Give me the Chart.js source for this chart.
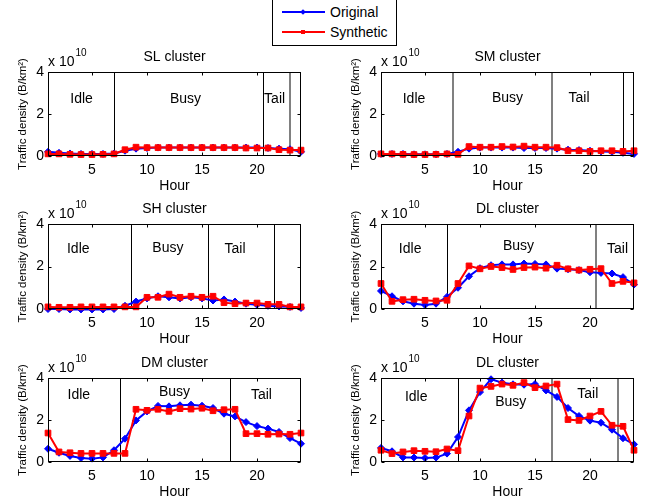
<!DOCTYPE html>
<html>
<head>
<meta charset="utf-8">
<script src="https://cdn.jsdelivr.net/npm/chart.js@4.4.0/dist/chart.umd.min.js"></script>
<style>
  body { margin: 0; width: 657px; height: 504px; background: #fff; position: relative; overflow: hidden;
         font-family: "Liberation Sans", Arial, sans-serif; }
  canvas { position: absolute; }
  #legend { position: absolute; left: 272px; top: -2px; width: 123px; height: 46px; border: 1px solid #000; background: #fff; }
  #legend .ln { position: absolute; left: 9px; width: 43px; height: 2px; }
  #legend .mk { position: absolute; }
  #legend .tx { position: absolute; left: 57px; font-size: 14px; line-height: 18px; color: #000; }
</style>
</head>
<body>
<div id="legend">
  <div class="ln" style="top:12px;background:#0000ff"></div>
  <div class="mk" style="left:28px;top:11px;width:4px;height:4px;background:#0000ff;transform:rotate(45deg)"></div>
  <div class="tx" style="top:4px">Original</div>
  <div class="ln" style="top:32px;background:#ff0000"></div>
  <div class="mk" style="left:28px;top:31px;width:4px;height:4px;background:#ff0000"></div>
  <div class="tx" style="top:24px">Synthetic</div>
</div>
<canvas id="sl" width="320" height="154" style="left:0;top:42px"></canvas>
<canvas id="sm" width="324" height="154" style="left:333px;top:42px"></canvas>
<canvas id="sh" width="320" height="155" style="left:0;top:194px"></canvas>
<canvas id="dl1" width="324" height="155" style="left:333px;top:194px"></canvas>
<canvas id="dm" width="320" height="154" style="left:0;top:348px"></canvas>
<canvas id="dl2" width="324" height="154" style="left:333px;top:348px"></canvas>
<script>
// hours of day and traffic density (x 10^10 B/km^2)
const hours = [1, 2, 3, 4, 5, 6, 7, 8, 9, 10, 11, 12, 13, 14, 15, 16, 17, 18, 19, 20, 21, 22, 23, 24];
const xTicks = [5, 10, 15, 20];
const yTicks = [0, 2, 4];

const slOriginal  = [0.2, 0.15, 0.12, 0.1, 0.1, 0.1, 0.12, 0.25, 0.35, 0.38, 0.4, 0.4, 0.4, 0.4, 0.4, 0.4, 0.4, 0.4, 0.4, 0.4, 0.38, 0.35, 0.32, 0.2];
const slSynthetic = [0.1, 0.1, 0.08, 0.07, 0.07, 0.08, 0.1, 0.3, 0.42, 0.4, 0.4, 0.4, 0.4, 0.4, 0.4, 0.4, 0.4, 0.4, 0.38, 0.38, 0.38, 0.3, 0.28, 0.28];

const smOriginal  = [0.1, 0.1, 0.1, 0.08, 0.08, 0.08, 0.1, 0.2, 0.35, 0.4, 0.4, 0.4, 0.4, 0.38, 0.38, 0.38, 0.35, 0.3, 0.28, 0.25, 0.22, 0.2, 0.15, 0.1];
const smSynthetic = [0.1, 0.1, 0.08, 0.07, 0.07, 0.08, 0.1, 0.08, 0.45, 0.42, 0.42, 0.45, 0.43, 0.47, 0.42, 0.42, 0.4, 0.25, 0.25, 0.22, 0.25, 0.25, 0.22, 0.25];

const shOriginal  = [0.0, 0.0, -0.02, -0.02, -0.02, -0.02, 0.0, 0.15, 0.35, 0.5, 0.6, 0.55, 0.5, 0.55, 0.5, 0.4, 0.45, 0.35, 0.25, 0.2, 0.15, 0.12, 0.1, 0.05];
const shSynthetic = [0.1, 0.08, 0.08, 0.1, 0.1, 0.1, 0.1, 0.1, 0.1, 0.55, 0.55, 0.7, 0.55, 0.6, 0.55, 0.6, 0.3, 0.25, 0.28, 0.28, 0.22, 0.22, 0.1, 0.1];

const dl1Original  = [0.85, 0.6, 0.36, 0.25, 0.19, 0.25, 0.57, 1.0, 1.54, 1.92, 2.06, 2.1, 2.1, 2.14, 2.12, 2.1, 1.9, 1.87, 1.83, 1.73, 1.7, 1.67, 1.5, 1.15];
const dl1Synthetic = [1.2, 0.36, 0.44, 0.46, 0.41, 0.38, 0.41, 1.2, 2.03, 1.89, 2.0, 1.95, 1.86, 1.95, 1.97, 1.92, 2.06, 1.89, 1.83, 1.87, 1.9, 1.2, 1.3, 1.23];

const dmOriginal  = [0.63, 0.44, 0.29, 0.19, 0.16, 0.22, 0.56, 1.11, 1.98, 2.41, 2.67, 2.65, 2.7, 2.73, 2.68, 2.57, 2.3, 2.17, 1.9, 1.71, 1.59, 1.43, 1.14, 0.87];
const dmSynthetic = [1.38, 0.48, 0.44, 0.41, 0.41, 0.41, 0.41, 0.41, 2.51, 2.46, 2.51, 2.41, 2.54, 2.52, 2.56, 2.44, 2.49, 2.51, 1.35, 1.35, 1.32, 1.33, 1.32, 1.38];

const dl2Original  = [0.67, 0.51, 0.22, 0.21, 0.19, 0.21, 0.4, 1.19, 2.46, 3.33, 3.94, 3.78, 3.7, 3.68, 3.71, 3.41, 3.1, 2.57, 2.19, 1.97, 1.87, 1.54, 1.13, 0.84];
const dl2Synthetic = [0.56, 0.4, 0.48, 0.54, 0.51, 0.49, 0.62, 0.54, 2.19, 3.52, 3.6, 3.71, 3.65, 3.78, 3.54, 3.62, 3.71, 2.02, 1.98, 2.19, 2.41, 1.75, 1.7, 0.56];

const FONT = '"Liberation Sans", Arial, sans-serif';
const GRAY = '#808080';

const panelDecor = {
    id: 'panelDecor',
    beforeDatasetsDraw(chart, args, opts) {
        const { ctx, chartArea: a, scales: { x, y } } = chart;
        ctx.save();
        opts.bounds.forEach((b, i) => {
            const gray = opts.boundColors[i] !== '#000';
            const px = Math.round(x.getPixelForValue(b)) + (gray ? 0 : 0.5);
            ctx.strokeStyle = opts.boundColors[i];
            ctx.lineWidth = gray ? 2 : 1;
            ctx.beginPath();
            ctx.moveTo(px, a.top);
            ctx.lineTo(px, a.bottom);
            ctx.stroke();
        });
        ctx.fillStyle = '#000';
        ctx.font = '14px ' + FONT;
        ctx.textAlign = 'center';
        ctx.textBaseline = 'middle';
        opts.phases.forEach(p => ctx.fillText(p.text, x.getPixelForValue(p.x), y.getPixelForValue(p.y)));
        ctx.restore();
    },
    afterDraw(chart, args, opts) {
        const { ctx, chartArea: a, scales: { x, y } } = chart;
        const l = Math.round(a.left) + 0.5, r = Math.round(a.right) - 0.5;
        const t = Math.round(a.top) + 0.5, b = Math.round(a.bottom) - 0.5;
        ctx.save();
        ctx.strokeStyle = '#000';
        ctx.lineWidth = 1;
        ctx.strokeRect(l, t, r - l, b - t);
        ctx.beginPath();
        xTicks.forEach(v => {
            const px = Math.round(x.getPixelForValue(v)) + 0.5;
            ctx.moveTo(px, b); ctx.lineTo(px, b - 3);
            ctx.moveTo(px, t); ctx.lineTo(px, t + 3);
        });
        yTicks.forEach(v => {
            const py = Math.round(y.getPixelForValue(v)) + 0.5;
            ctx.moveTo(l, py); ctx.lineTo(l + 3, py);
            ctx.moveTo(r, py); ctx.lineTo(r - 3, py);
        });
        ctx.stroke();

        ctx.fillStyle = '#000';
        ctx.textBaseline = 'middle';
        ctx.textAlign = 'center';
        ctx.font = '14px ' + FONT;
        const cx = (a.left + a.right) / 2;
        ctx.fillText(opts.title, cx, a.top - 15);
        ctx.fillText('Hour', cx, a.bottom + 30);

        ctx.textAlign = 'left';
        ctx.fillText('x 10', a.left, a.top - 10);
        const w = ctx.measureText('x 10').width;
        ctx.font = '10px ' + FONT;
        ctx.fillText('10', a.left + w + 1, a.top - 19);

        ctx.translate(a.left - 25, (a.top + a.bottom) / 2);
        ctx.rotate(-Math.PI / 2);
        ctx.textAlign = 'center';
        ctx.font = '11.5px ' + FONT;
        ctx.fillText('Traffic density (B/km\u00B2)', 0, 0);
        ctx.restore();
    }
};

function makePanel(id, title, original, synthetic, bounds, boundColors, phases, padRight) {
    new Chart(document.getElementById(id), {
        type: 'line',
        data: {
            datasets: [{
                label: 'Original',
                data: hours.map((h, i) => ({ x: h, y: original[i] })),
                borderColor: '#0000ff',
                backgroundColor: '#0000ff',
                borderWidth: 2,
                pointStyle: 'rectRot',
                pointRadius: 3.5,
                pointBorderWidth: 1,
                clip: false,
                order: 1
            }, {
                label: 'Synthetic',
                data: hours.map((h, i) => ({ x: h, y: synthetic[i] })),
                borderColor: '#ff0000',
                backgroundColor: '#ff0000',
                borderWidth: 2,
                pointStyle: 'rect',
                pointRadius: 4,
                pointBorderWidth: 1,
                clip: false,
                order: 0
            }]
        },
        options: {
            responsive: false,
            animation: false,
            events: [],
            layout: { padding: { top: 30, right: padRight, left: 0, bottom: 0 } },
            plugins: {
                legend: { display: false },
                tooltip: { enabled: false },
                panelDecor: { title, bounds, boundColors, phases }
            },
            scales: {
                x: {
                    type: 'linear', min: 1, max: 24,
                    afterBuildTicks: s => { s.ticks = xTicks.map(v => ({ value: v })); },
                    afterFit: s => { s.height = 40; },
                    grid: { display: false, drawTicks: false },
                    border: { display: false },
                    ticks: { autoSkip: false, maxRotation: 0, padding: 6, color: '#000', font: { size: 14, family: FONT } }
                },
                y: {
                    min: 0, max: 4,
                    afterBuildTicks: s => { s.ticks = yTicks.map(v => ({ value: v })); },
                    afterFit: s => { s.width = 48; },
                    grid: { display: false, drawTicks: false },
                    border: { display: false },
                    ticks: { padding: 4, color: '#000', font: { size: 14, family: FONT } }
                }
            }
        },
        plugins: [panelDecor]
    });
}

makePanel('sl', 'SL cluster', slOriginal, slSynthetic, [7, 20.5, 23], ['#000', '#000', GRAY],
    [{ text: 'Idle', x: 4.05, y: 2.7 }, { text: 'Busy', x: 13.5, y: 2.7 }, { text: 'Tail', x: 21.6, y: 2.7 }], 19);
makePanel('sm', 'SM cluster', smOriginal, smSynthetic, [7.5, 16.5, 23], [GRAY, GRAY, '#000'],
    [{ text: 'Idle', x: 4.0, y: 2.7 }, { text: 'Busy', x: 12.5, y: 2.75 }, { text: 'Tail', x: 19.0, y: 2.75 }], 23);
makePanel('sh', 'SH cluster', shOriginal, shSynthetic, [8.5, 15.5, 21.5], ['#000', '#000', '#000'],
    [{ text: 'Idle', x: 3.75, y: 2.8 }, { text: 'Busy', x: 11.9, y: 2.85 }, { text: 'Tail', x: 18.0, y: 2.8 }], 19);
makePanel('dl1', 'DL cluster', dl1Original, dl1Synthetic, [7, 20.5], ['#000', GRAY],
    [{ text: 'Idle', x: 3.65, y: 2.8 }, { text: 'Busy', x: 13.5, y: 2.95 }, { text: 'Tail', x: 22.5, y: 2.8 }], 23);
makePanel('dm', 'DM cluster', dmOriginal, dmSynthetic, [7.5, 17.5], ['#000', '#000'],
    [{ text: 'Idle', x: 3.8, y: 3.2 }, { text: 'Busy', x: 12.5, y: 3.35 }, { text: 'Tail', x: 20.4, y: 3.2 }], 19);
makePanel('dl2', 'DL cluster', dl2Original, dl2Synthetic, [8, 16.5, 22.5], ['#000', GRAY, GRAY],
    [{ text: 'Idle', x: 4.2, y: 3.1 }, { text: 'Busy', x: 12.8, y: 2.85 }, { text: 'Tail', x: 19.8, y: 3.25 }], 23);
</script>
</body>
</html>
